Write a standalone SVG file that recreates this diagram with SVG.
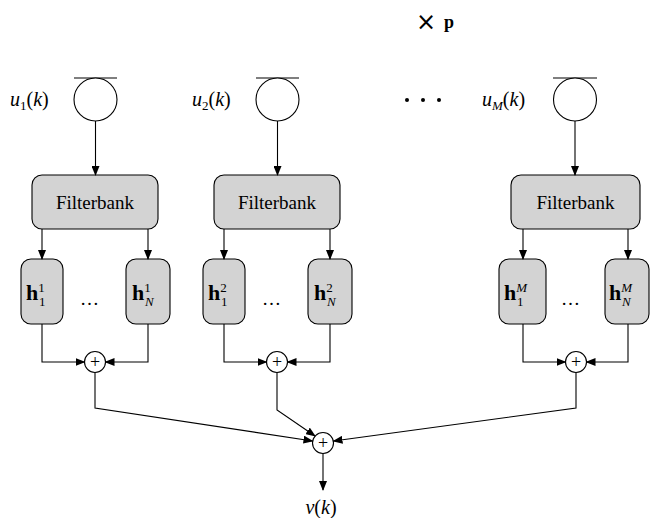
<svg xmlns="http://www.w3.org/2000/svg" width="650" height="518" viewBox="0 0 650 518">
<defs>
<marker id="ah" markerWidth="10" markerHeight="8" refX="9" refY="4" orient="auto" markerUnits="userSpaceOnUse">
<path d="M0,0 L10,4 L0,8 Z" fill="#000"/>
</marker>
</defs>
<g id="header">
<text x="416" y="30" font-family="DejaVu Sans" font-size="24" fill="#000">×</text>
<text x="444" y="28" font-family="Liberation Serif" font-weight="bold" font-size="18" fill="#000">p</text>
<circle cx="407" cy="100" r="2" fill="#000"/>
<circle cx="423" cy="100" r="2" fill="#000"/>
<circle cx="439" cy="100" r="2" fill="#000"/>
</g>
<g id="src1" stroke="#000" stroke-width="1.1">
<line x1="74" y1="78" x2="117" y2="78"/>
<circle cx="95.5" cy="99.5" r="21.5" fill="#fff"/>
<text x="10" y="106" font-family="Liberation Serif" font-size="20" font-style="italic" fill="#000" stroke="none">u<tspan font-size="13" font-style="normal" dy="4">1</tspan><tspan dy="-4" font-style="normal">(</tspan>k<tspan font-style="normal">)</tspan></text>
</g>
<g id="src2" stroke="#000" stroke-width="1.1">
<line x1="256" y1="78" x2="299" y2="78"/>
<circle cx="277.5" cy="99.5" r="21.5" fill="#fff"/>
<text x="192" y="106" font-family="Liberation Serif" font-size="20" font-style="italic" fill="#000" stroke="none">u<tspan font-size="13" font-style="normal" dy="4">2</tspan><tspan dy="-4" font-style="normal">(</tspan>k<tspan font-style="normal">)</tspan></text>
</g>
<g id="srcM" stroke="#000" stroke-width="1.1">
<line x1="553" y1="78" x2="597" y2="78"/>
<circle cx="575" cy="99.5" r="21.5" fill="#fff"/>
<text x="482" y="106" font-family="Liberation Serif" font-size="20" font-style="italic" fill="#000" stroke="none">u<tspan font-size="13" dy="4">M</tspan><tspan dy="-4" font-style="normal">(</tspan>k<tspan font-style="normal">)</tspan></text>
</g>
<g id="fb1"><rect x="32" y="175" width="126" height="54" rx="10" fill="#d3d3d3" stroke="#000" stroke-width="1.1"/><text x="95" y="209" font-family="Liberation Serif" font-size="19" fill="#000" text-anchor="middle">Filterbank</text></g>
<g id="fb2"><rect x="214" y="175" width="126" height="54" rx="10" fill="#d3d3d3" stroke="#000" stroke-width="1.1"/><text x="277" y="209" font-family="Liberation Serif" font-size="19" fill="#000" text-anchor="middle">Filterbank</text></g>
<g id="fbM"><rect x="511" y="175" width="129" height="54" rx="10" fill="#d3d3d3" stroke="#000" stroke-width="1.1"/><text x="575.5" y="209" font-family="Liberation Serif" font-size="19" fill="#000" text-anchor="middle">Filterbank</text></g>
<g id="h11"><rect x="21" y="259" width="42" height="65" rx="10" fill="#d3d3d3" stroke="#000" stroke-width="1.1"/><text x="26" y="300" font-family="Liberation Serif" font-size="22" font-weight="bold" fill="#000">h<tspan font-size="13" font-weight="normal" dy="-8">1</tspan><tspan font-size="13" font-weight="normal" x="39" dy="14">1</tspan></text></g>
<g id="h1N"><rect x="126" y="259" width="44" height="65" rx="10" fill="#d3d3d3" stroke="#000" stroke-width="1.1"/><text x="132" y="300" font-family="Liberation Serif" font-size="22" font-weight="bold" fill="#000">h<tspan font-size="13" font-weight="normal" dy="-8">1</tspan><tspan font-size="13" font-weight="normal" font-style="italic" x="145" dy="14">N</tspan></text></g>
<text x="80" y="305" font-family="Liberation Serif" font-size="19" fill="#000">…</text>
<g id="h21"><rect x="203" y="259" width="42" height="65" rx="10" fill="#d3d3d3" stroke="#000" stroke-width="1.1"/><text x="208" y="300" font-family="Liberation Serif" font-size="22" font-weight="bold" fill="#000">h<tspan font-size="13" font-weight="normal" dy="-8">2</tspan><tspan font-size="13" font-weight="normal" x="221" dy="14">1</tspan></text></g>
<g id="h2N"><rect x="308" y="259" width="44" height="65" rx="10" fill="#d3d3d3" stroke="#000" stroke-width="1.1"/><text x="314" y="300" font-family="Liberation Serif" font-size="22" font-weight="bold" fill="#000">h<tspan font-size="13" font-weight="normal" dy="-8">2</tspan><tspan font-size="13" font-weight="normal" font-style="italic" x="327" dy="14">N</tspan></text></g>
<text x="262" y="305" font-family="Liberation Serif" font-size="19" fill="#000">…</text>
<g id="hM1"><rect x="499" y="259" width="47" height="65" rx="10" fill="#d3d3d3" stroke="#000" stroke-width="1.1"/><text x="504" y="300" font-family="Liberation Serif" font-size="22" font-weight="bold" fill="#000">h<tspan font-size="13" font-weight="normal" font-style="italic" dy="-8">M</tspan><tspan font-size="13" font-weight="normal" x="517" dy="14">1</tspan></text></g>
<g id="hMN"><rect x="605" y="259" width="44" height="65" rx="10" fill="#d3d3d3" stroke="#000" stroke-width="1.1"/><text x="609" y="300" font-family="Liberation Serif" font-size="22" font-weight="bold" fill="#000">h<tspan font-size="13" font-weight="normal" font-style="italic" dy="-8">M</tspan><tspan font-size="13" font-weight="normal" font-style="italic" x="622" dy="14">N</tspan></text></g>
<text x="561" y="305" font-family="Liberation Serif" font-size="19" fill="#000">…</text>
<g id="sum1"><circle cx="95" cy="362" r="10.5" fill="#fff" stroke="#000" stroke-width="1.1"/><text x="95" y="368" font-family="Liberation Serif" font-size="18" fill="#000" text-anchor="middle">+</text></g>
<g id="sum2"><circle cx="277" cy="362" r="10.5" fill="#fff" stroke="#000" stroke-width="1.1"/><text x="277" y="368" font-family="Liberation Serif" font-size="18" fill="#000" text-anchor="middle">+</text></g>
<g id="sumM"><circle cx="576" cy="362" r="10.5" fill="#fff" stroke="#000" stroke-width="1.1"/><text x="576" y="368" font-family="Liberation Serif" font-size="18" fill="#000" text-anchor="middle">+</text></g>
<g id="sumF"><circle cx="323" cy="443" r="10.5" fill="#fff" stroke="#000" stroke-width="1.1"/><text x="323" y="449" font-family="Liberation Serif" font-size="18" fill="#000" text-anchor="middle">+</text></g>
<text x="321" y="514" font-family="Liberation Serif" font-size="20" font-style="italic" fill="#000" text-anchor="middle">v<tspan font-style="normal">(</tspan>k<tspan font-style="normal">)</tspan></text>
<g id="connectors" fill="none" stroke="#000" stroke-width="1.1" marker-end="url(#ah)">
<line x1="95.5" y1="121" x2="95.5" y2="175"/>
<line x1="277.5" y1="121" x2="277.5" y2="175"/>
<line x1="575" y1="121" x2="575" y2="175"/>
<line x1="42" y1="229" x2="42" y2="259"/>
<line x1="148" y1="229" x2="148" y2="259"/>
<line x1="224" y1="229" x2="224" y2="259"/>
<line x1="330" y1="229" x2="330" y2="259"/>
<line x1="523" y1="229" x2="523" y2="259"/>
<line x1="628" y1="229" x2="628" y2="259"/>
<polyline points="42,324 42,362 84.5,362"/>
<polyline points="148,324 148,362 105.5,362"/>
<polyline points="224,324 224,362 266.5,362"/>
<polyline points="330,324 330,362 287.5,362"/>
<polyline points="523,324 523,362 565.5,362"/>
<polyline points="628,324 628,362 586.5,362"/>
<polyline points="95,372.5 95,408 312.5,441"/>
<polyline points="277,372.5 277,410 315,436"/>
<polyline points="576,372.5 576,408 333.5,441"/>
<line x1="323" y1="453.5" x2="323" y2="490"/>
</g>
</svg>
